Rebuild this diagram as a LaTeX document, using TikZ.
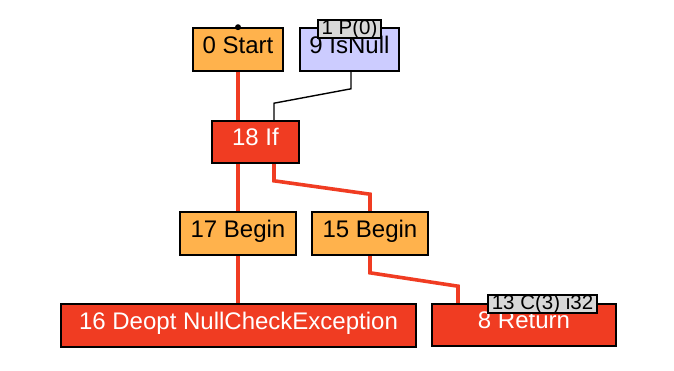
\documentclass[tikz,border=0pt]{standalone}
\usepackage{fontspec}
\setmainfont{Liberation Sans}
\usetikzlibrary{backgrounds}
\definecolor{nodeorange}{HTML}{FFB24C}
\definecolor{nodered}{HTML}{F03C22}
\definecolor{nodeblue}{HTML}{CCCCFF}
\definecolor{labelgray}{HTML}{D8D8D8}
\begin{document}
\begin{tikzpicture}[x=1pt,y=-1pt,
  box/.style={draw=black, line width=1.6pt, minimum height=43pt, inner sep=0pt,
    text height=16pt, text depth=8.5pt,
    font=\fontsize{24}{26}\selectfont},
  orangebox/.style={box, fill=nodeorange, text=black},
  redbox/.style={box, fill=nodered, text=white},
  bluebox/.style={box, fill=nodeblue, text=black},
  tag/.style={draw=black, line width=1.2pt, fill=labelgray, minimum height=18pt, inner sep=0pt,
    text height=14pt, text depth=4pt,
    font=\fontsize{20.5}{20}\selectfont},
  ctrl/.style={draw=nodered, line width=3.6pt},
  dataedge/.style={draw=black, line width=1.4pt}
]
\useasboundingbox (0,0) rectangle (674,370);
% nodes
\node[orangebox, minimum width=90pt] (start) at (238,49.5) {0 Start};
\node[bluebox, minimum width=99pt] (isnull) at (349.5,49.5) {9 IsNull};
\node[redbox, minimum width=87pt, minimum height=42pt] (if) at (255.5,142) {18 If};
\node[orangebox, minimum width=116pt] (b17) at (238,233.5) {17 Begin};
\node[orangebox, minimum width=116pt] (b15) at (370,233.5) {15 Begin};
\node[redbox, minimum width=355pt] (deopt) at (238.5,325.5) {16 Deopt NullCheckException};
\node[redbox, minimum width=184pt, minimum height=42pt] (ret) at (524,325) {8 Return};
% input dot
\fill[black] (start.north) circle (3pt);
% tags
\node[tag, minimum width=63pt] (p0) at (349.5,29) {1 P(0)};
\node[tag, minimum width=109pt] (c3) at (542.5,304) {13 C(3) i32};
% edges
\begin{scope}[on background layer]
\draw[ctrl] (start.south) -- (start.south |- if.north);
\draw[ctrl] (start.south |- if.south) -- (b17.north);
\draw[ctrl] ([xshift=18.5pt]if.south) -- ++(0,17) -- ([yshift=17pt]b15.north) -- (b15.north);
\draw[ctrl] (b17.south) -- (b17.south |- deopt.north);
\draw[ctrl] (b15.south) -- ++(0,17) -- ([xshift=-66pt,yshift=17pt]ret.north) -- ([xshift=-66pt]ret.north);
\draw[dataedge] ([xshift=1.5pt]isnull.south) -- ++(0,17) -- ([xshift=18.5pt,yshift=17pt]if.north) -- ([xshift=18.5pt]if.north);
\end{scope}
\end{tikzpicture}
\end{document}
